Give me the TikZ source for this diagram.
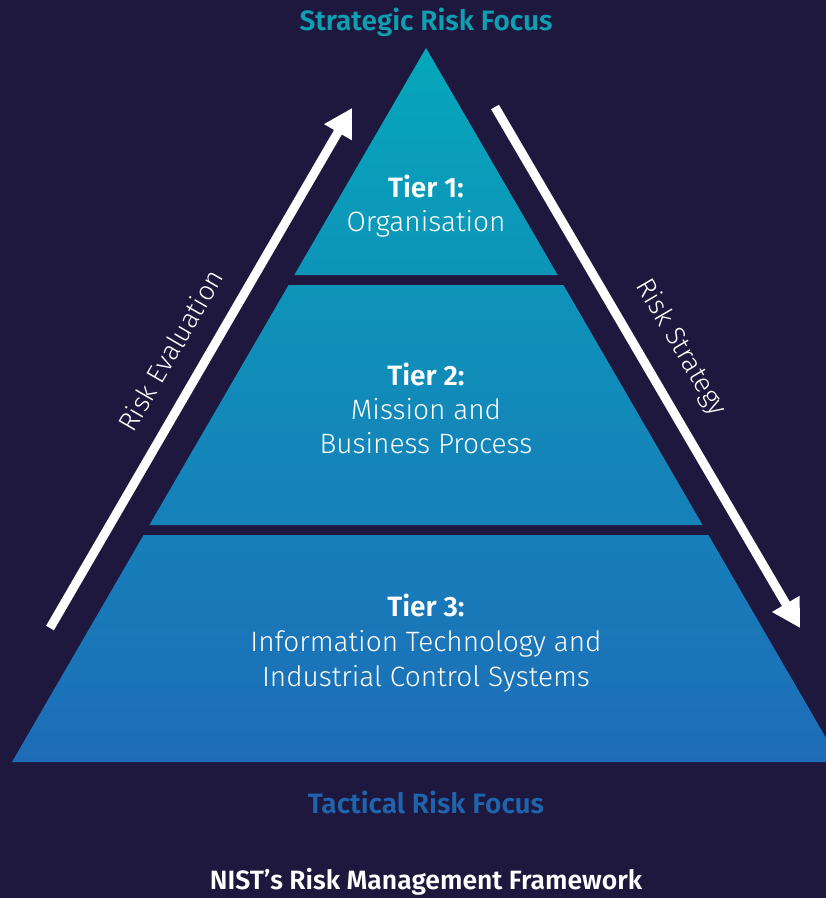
\documentclass[tikz,border=0pt]{standalone}
\usepackage{fontspec}
\setmainfont{Fira Sans Light}[BoldFont={Fira Sans SemiBold}]
\usetikzlibrary{arrows.meta}
\definecolor{bgnavy}{RGB}{30,24,62}
\definecolor{pyrtop}{RGB}{6,167,186}
\definecolor{pyrbottom}{RGB}{30,108,184}
\definecolor{stratteal}{RGB}{14,160,178}
\definecolor{tactblue}{RGB}{31,100,174}

\begin{document}
\begin{tikzpicture}[x=1pt, y=-1pt,
    flow/.style={draw=white, line width=9pt, -{Triangle[length=28pt, width=30pt]}},
    flowlabel/.style={text=white, font=\fontsize{27}{30}\selectfont},
    tier/.style={text=white, align=center, font=\fontsize{28}{34}\selectfont},
    focus/.style={font=\fontsize{28}{32}\selectfont\bfseries}]
    \useasboundingbox (0,0) rectangle (826,898);
    \fill[bgnavy] (0,0) rectangle (826,898);
    % the three tiers share one shading
    \begin{scope}
    \clip (426,48) -- (557.7,275) -- (294.3,275) -- cycle
          (288.6,285) -- (563.4,285) -- (702.6,525) -- (149.4,525) -- cycle
          (143.6,535) -- (708.4,535) -- (840,762) -- (12,762) -- cycle;
    \shade[top color=pyrtop, bottom color=pyrbottom] (0,48) rectangle (860,762);
    \end{scope}
    \node[tier](tier1) at (426,206) {\textbf{Tier 1:}\\Organisation};
    \node[tier](tier2) at (426,408) {\textbf{Tier 2:}\\Mission and\\Business Process};
    \node[tier, font=\fontsize{28}{35}\selectfont](tier3) at (426,643) {\textbf{Tier 3:}\\Information Technology and\\Industrial Control Systems};
    \node[focus, text=stratteal](strategic) at (426,22) {Strategic Risk Focus};
    \node[focus, text=tactblue](tactical) at (426,802) {Tactical Risk Focus};
    \node[focus, text=white, font=\fontsize{26.5}{30}\selectfont\bfseries](framework) at (426,882) {NIST’s Risk Management Framework};
    % arrows along the sides
    \coordinate (evalfrom) at (50,628);
    \coordinate (evalto) at (352,108);
    \coordinate (stratfrom) at (495,107);
    \coordinate (stratto) at (800,628);
    \draw[flow] (evalfrom) -- node[flowlabel, midway, sloped, above=17pt]{Risk Evaluation} (evalto);
    \draw[flow] (stratfrom) -- node[flowlabel, midway, sloped, above=18pt]{Risk Strategy} (stratto);
\end{tikzpicture}
\end{document}
